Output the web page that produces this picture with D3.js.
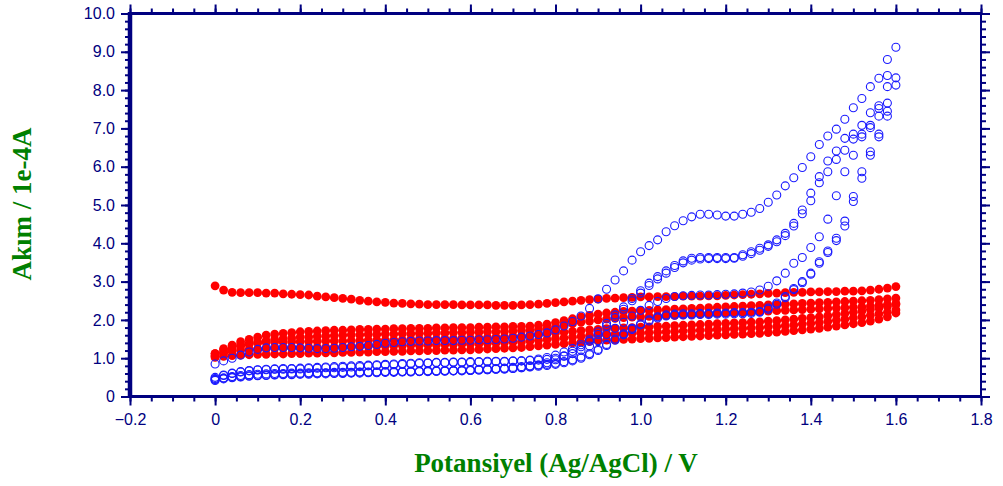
<!DOCTYPE html>
<meta charset="utf-8">
<head>
  <title>Cyclic voltammogram</title>
</head>

<style>
body { margin: 0; background: #fff; }
.tick text {
  font-family: "Liberation Sans", Arial, sans-serif;
  font-size: 16px;
  fill: #000080;
}
.tick line { stroke: #000080; stroke-width: 2; }
.axis-title {
  font-family: "Liberation Serif", "Times New Roman", serif;
  font-weight: bold;
  font-size: 27px;
  fill: #008000;
}
</style>

<body>
  <svg width="1003" height="486"></svg>

  <script src="https://cdnjs.cloudflare.com/ajax/libs/d3/7.8.5/d3.min.js"></script>
  <script>

// potential grid (V), one point every 0.02 V from 0 to 1.6
const potential = d3.range(81).map(i => Math.round(i * 2) / 100);

const xTicks = [-0.2, 0, 0.2, 0.4, 0.6, 0.8, 1.0, 1.2, 1.4, 1.6, 1.8];
const yTicks = [0, 1, 2, 3, 4, 5, 6, 7, 8, 9, 10];

// blue sweeps (open circles), current in 1e-4 A
const blueF1 = [
  0.85, 0.93, 1.00, 1.08, 1.16, 1.23, 1.27, 1.28, 1.28, 1.28,
  1.27, 1.26, 1.25, 1.25, 1.26, 1.28, 1.30, 1.31, 1.33, 1.36,
  1.39, 1.41, 1.43, 1.44, 1.45, 1.45, 1.46, 1.46, 1.46, 1.47,
  1.47, 1.48, 1.48, 1.49, 1.50, 1.52, 1.55, 1.58, 1.62, 1.66,
  1.74, 1.84, 1.96, 2.10, 2.30, 2.55, 2.80, 3.04, 3.28, 3.56,
  3.78, 3.94, 4.09, 4.30, 4.46, 4.59, 4.69, 4.76, 4.76, 4.74,
  4.71, 4.71, 4.76, 4.81, 4.91, 5.07, 5.26, 5.50, 5.71, 5.98,
  6.26, 6.58, 6.80, 6.98, 7.24, 7.54, 7.78, 8.09, 8.31, 8.80,
  9.12];
const blueR1 = [
  0.47, 0.55, 0.61, 0.65, 0.68, 0.70, 0.71, 0.72, 0.73, 0.73,
  0.74, 0.75, 0.76, 0.77, 0.78, 0.79, 0.80, 0.81, 0.82, 0.83,
  0.84, 0.85, 0.86, 0.87, 0.88, 0.88, 0.89, 0.89, 0.90, 0.90,
  0.91, 0.91, 0.92, 0.92, 0.92, 0.93, 0.93, 0.94, 0.95, 0.97,
  1.00, 1.05, 1.12, 1.21, 1.32, 1.46, 1.62, 1.78, 1.94, 2.10,
  2.25, 2.38, 2.48, 2.56, 2.61, 2.63, 2.64, 2.65, 2.65, 2.66,
  2.67, 2.68, 2.70, 2.73, 2.78, 2.88, 3.02, 3.22, 3.48, 3.63,
  3.89, 4.17, 4.63, 5.24, 5.87, 6.30, 6.78, 7.02, 7.32, 8.38,
  null];
const blueF2 = [
  0.50, 0.56, 0.60, 0.64, 0.67, 0.69, 0.70, 0.71, 0.71, 0.72,
  0.72, 0.73, 0.74, 0.75, 0.75, 0.76, 0.77, 0.78, 0.80, 0.81,
  0.82, 0.83, 0.84, 0.85, 0.86, 0.87, 0.88, 0.88, 0.89, 0.89,
  0.89, 0.90, 0.90, 0.91, 0.91, 0.92, 0.93, 0.95, 0.98, 1.02,
  1.08, 1.16, 1.25, 1.35, 1.48, 1.69, 1.91, 2.13, 2.34, 2.56,
  2.76, 2.96, 3.13, 3.28, 3.42, 3.54, 3.61, 3.63, 3.63, 3.63,
  3.63, 3.63, 3.70, 3.78, 3.87, 3.96, 4.09, 4.26, 4.52, 4.87,
  5.31, 5.74, 6.15, 6.41, 6.74, 6.85, 7.08, 7.41, 7.59, 8.09,
  8.32];
const blueR2 = [
  0.45, 0.48, 0.50, 0.52, 0.54, 0.55, 0.56, 0.57, 0.58, 0.59,
  0.59, 0.60, 0.60, 0.61, 0.61, 0.62, 0.62, 0.63, 0.63, 0.64,
  0.64, 0.65, 0.65, 0.66, 0.66, 0.67, 0.67, 0.68, 0.68, 0.69,
  0.70, 0.71, 0.72, 0.73, 0.74, 0.76, 0.78, 0.80, 0.82, 0.84,
  0.87, 0.91, 0.96, 1.03, 1.12, 1.23, 1.36, 1.50, 1.64, 1.78,
  1.90, 2.00, 2.08, 2.13, 2.15, 2.16, 2.16, 2.17, 2.17, 2.18,
  2.18, 2.19, 2.19, 2.20, 2.22, 2.31, 2.44, 2.61, 2.82, 3.00,
  3.22, 3.52, 3.80, 4.13, 4.58, 5.22, 5.87, 6.39, 6.85, 7.45,
  null];
const blueF3 = [
  0.44, 0.48, 0.52, 0.55, 0.57, 0.58, 0.59, 0.60, 0.60, 0.61,
  0.61, 0.62, 0.62, 0.62, 0.63, 0.63, 0.63, 0.64, 0.64, 0.64,
  0.65, 0.65, 0.65, 0.65, 0.66, 0.66, 0.66, 0.67, 0.67, 0.68,
  0.68, 0.69, 0.70, 0.71, 0.72, 0.73, 0.75, 0.78, 0.82, 0.88,
  0.96, 1.06, 1.18, 1.30, 1.44, 1.62, 1.84, 2.06, 2.28, 2.50,
  2.70, 2.90, 3.07, 3.22, 3.37, 3.49, 3.56, 3.59, 3.60, 3.60,
  3.60, 3.61, 3.66, 3.73, 3.82, 3.92, 4.04, 4.20, 4.45, 4.77,
  5.11, 5.58, 5.87, 6.19, 6.43, 6.72, 6.85, 7.08, 7.52, 7.66,
  8.13];
const blueR3 = [
  0.42, 0.46, 0.49, 0.51, 0.53, 0.54, 0.55, 0.56, 0.57, 0.57,
  0.58, 0.58, 0.59, 0.59, 0.60, 0.60, 0.61, 0.61, 0.62, 0.62,
  0.63, 0.63, 0.64, 0.64, 0.65, 0.65, 0.66, 0.66, 0.67, 0.67,
  0.68, 0.69, 0.70, 0.71, 0.72, 0.73, 0.75, 0.77, 0.79, 0.81,
  0.84, 0.88, 0.93, 1.00, 1.09, 1.20, 1.33, 1.47, 1.61, 1.75,
  1.87, 1.97, 2.05, 2.10, 2.12, 2.13, 2.13, 2.14, 2.14, 2.15,
  2.15, 2.16, 2.16, 2.17, 2.20, 2.28, 2.41, 2.58, 2.79, 2.97,
  3.19, 3.48, 3.76, 4.07, 4.45, 5.09, 5.70, 6.30, 6.78, 7.32,
  null];

// red sweeps (filled circles)
const redF1 = [
  2.89, 2.78, 2.72, 2.71, 2.71, 2.71, 2.70, 2.70, 2.68, 2.67,
  2.66, 2.65, 2.62, 2.60, 2.58, 2.56, 2.54, 2.51, 2.49, 2.47,
  2.46, 2.44, 2.43, 2.42, 2.41, 2.40, 2.40, 2.40, 2.40, 2.39,
  2.39, 2.39, 2.39, 2.38, 2.38, 2.38, 2.39, 2.40, 2.41, 2.43,
  2.45, 2.47, 2.49, 2.51, 2.53, 2.54, 2.56, 2.57, 2.58, 2.59,
  2.60, 2.60, 2.61, 2.61, 2.61, 2.62, 2.62, 2.62, 2.63, 2.63,
  2.64, 2.65, 2.66, 2.67, 2.68, 2.69, 2.70, 2.71, 2.72, 2.72,
  2.73, 2.73, 2.74, 2.74, 2.75, 2.75, 2.76, 2.78, 2.80, 2.83,
  2.87];
const redF2 = [
  1.12, 1.25, 1.34, 1.43, 1.49, 1.55, 1.60, 1.63, 1.65, 1.67,
  1.69, 1.70, 1.71, 1.72, 1.73, 1.73, 1.74, 1.75, 1.75, 1.76,
  1.76, 1.77, 1.77, 1.78, 1.78, 1.78, 1.79, 1.79, 1.80, 1.80,
  1.80, 1.81, 1.81, 1.82, 1.82, 1.83, 1.83, 1.84, 1.86, 1.89,
  1.93, 1.98, 2.03, 2.08, 2.12, 2.15, 2.18, 2.20, 2.22, 2.23,
  2.24, 2.25, 2.26, 2.27, 2.28, 2.29, 2.30, 2.31, 2.32, 2.33,
  2.34, 2.35, 2.36, 2.37, 2.38, 2.39, 2.40, 2.41, 2.42, 2.43,
  2.44, 2.45, 2.46, 2.47, 2.48, 2.49, 2.50, 2.51, 2.53, 2.55,
  2.57];
const redF3 = [
  1.05, 1.15, 1.24, 1.31, 1.37, 1.42, 1.46, 1.49, 1.51, 1.53,
  1.55, 1.56, 1.57, 1.58, 1.59, 1.60, 1.61, 1.61, 1.62, 1.62,
  1.63, 1.63, 1.64, 1.64, 1.65, 1.65, 1.66, 1.66, 1.67, 1.67,
  1.68, 1.68, 1.69, 1.69, 1.70, 1.71, 1.72, 1.73, 1.75, 1.78,
  1.82, 1.86, 1.90, 1.94, 1.97, 2.00, 2.02, 2.04, 2.06, 2.07,
  2.08, 2.09, 2.10, 2.11, 2.12, 2.13, 2.14, 2.15, 2.16, 2.17,
  2.18, 2.19, 2.20, 2.21, 2.22, 2.23, 2.24, 2.25, 2.26, 2.27,
  2.28, 2.29, 2.30, 2.31, 2.32, 2.33, 2.34, 2.36, 2.38, 2.40,
  2.43];
const redR1 = [
  1.02, 1.05, 1.07, 1.08, 1.09, 1.10, 1.10, 1.11, 1.11, 1.12,
  1.12, 1.13, 1.13, 1.14, 1.14, 1.15, 1.15, 1.16, 1.16, 1.17,
  1.17, 1.18, 1.18, 1.19, 1.19, 1.20, 1.20, 1.21, 1.21, 1.22,
  1.22, 1.23, 1.24, 1.25, 1.26, 1.27, 1.28, 1.30, 1.32, 1.34,
  1.36, 1.38, 1.40, 1.42, 1.44, 1.45, 1.47, 1.48, 1.49, 1.50,
  1.51, 1.52, 1.53, 1.54, 1.55, 1.56, 1.57, 1.58, 1.59, 1.60,
  1.61, 1.62, 1.63, 1.64, 1.65, 1.67, 1.68, 1.70, 1.72, 1.74,
  1.76, 1.78, 1.81, 1.84, 1.87, 1.90, 1.93, 1.97, 2.02, 2.08,
  2.18];
const redR2 = [
  1.08, 1.14, 1.18, 1.21, 1.23, 1.24, 1.25, 1.26, 1.26, 1.27,
  1.27, 1.28, 1.28, 1.29, 1.29, 1.30, 1.30, 1.31, 1.31, 1.32,
  1.32, 1.33, 1.33, 1.34, 1.34, 1.35, 1.35, 1.36, 1.36, 1.37,
  1.37, 1.38, 1.39, 1.40, 1.41, 1.42, 1.43, 1.45, 1.47, 1.49,
  1.51, 1.53, 1.55, 1.57, 1.59, 1.60, 1.62, 1.63, 1.64, 1.65,
  1.66, 1.67, 1.68, 1.69, 1.70, 1.71, 1.72, 1.73, 1.74, 1.75,
  1.76, 1.77, 1.78, 1.79, 1.80, 1.82, 1.83, 1.85, 1.87, 1.89,
  1.91, 1.93, 1.96, 1.99, 2.02, 2.05, 2.08, 2.12, 2.16, 2.20,
  2.26];
const redR3 = [
  1.12, 1.22, 1.30, 1.35, 1.38, 1.40, 1.41, 1.42, 1.42, 1.43,
  1.43, 1.44, 1.44, 1.45, 1.45, 1.45, 1.46, 1.46, 1.47, 1.47,
  1.47, 1.48, 1.48, 1.49, 1.49, 1.50, 1.50, 1.51, 1.51, 1.52,
  1.52, 1.53, 1.54, 1.55, 1.56, 1.57, 1.58, 1.60, 1.62, 1.64,
  1.66, 1.68, 1.70, 1.72, 1.74, 1.75, 1.77, 1.78, 1.79, 1.80,
  1.81, 1.82, 1.83, 1.84, 1.85, 1.86, 1.87, 1.88, 1.89, 1.90,
  1.91, 1.92, 1.93, 1.94, 1.95, 1.97, 1.98, 2.00, 2.02, 2.04,
  2.06, 2.08, 2.11, 2.14, 2.17, 2.20, 2.23, 2.27, 2.31, 2.35,
  2.40];

const redSweeps = [redR1, redR2, redR3, redF3, redF2, redF1];
const blueSweeps = [blueR3, blueF3, blueR2, blueF2, blueR1, blueF1];

const svg = d3.select('svg');
const x = d3.scaleLinear().domain([-0.2, 1.8]).range([130, 981]);
const y = d3.scaleLinear().domain([0, 10]).range([396.5, 13.5]);

const toPoints = arr => arr
  .map((v, i) => ({ p: potential[i], v: v }))
  .filter(d => d.v != null);

// red filled markers
svg.append('g')
  .selectAll('g')
  .data(redSweeps)
  .enter().append('g')
  .selectAll('circle')
  .data(d => toPoints(d))
  .enter().append('circle')
  .attr('cx', d => x(d.p))
  .attr('cy', d => y(d.v))
  .attr('r', 4.4)
  .attr('fill', '#ff0000');

// blue open markers
svg.append('g')
  .selectAll('g')
  .data(blueSweeps)
  .enter().append('g')
  .selectAll('circle')
  .data(d => toPoints(d))
  .enter().append('circle')
  .attr('cx', d => x(d.p))
  .attr('cy', d => y(d.v))
  .attr('r', 4)
  .attr('fill', 'none')
  .attr('stroke', '#1a1aff')
  .attr('stroke-width', 1.1);

// axes
const xMinor = d3.range(-0.2, 1.801, 0.05).map(d => Math.round(d * 100) / 100);
const yMinor = d3.range(0, 10.01, 0.2).map(d => Math.round(d * 10) / 10);
const fmtX = d => d === 0 ? '0' : d3.format('.1f')(d);
const fmtY = d => d === 0 ? '0' : d3.format('.1f')(d);

function addAxis(axis, tx, ty) {
  const g = svg.append('g').attr('transform', `translate(${tx},${ty})`).call(axis);
  g.select('.domain').remove();
  return g;
}

addAxis(d3.axisBottom(x).tickValues(xMinor).tickSize(5).tickFormat(''), 0, 396.5);
addAxis(d3.axisBottom(x).tickValues(xTicks).tickSize(9).tickPadding(8).tickFormat(fmtX), 0, 396.5);
addAxis(d3.axisTop(x).tickValues(xMinor).tickSize(5).tickFormat(''), 0, 13.5);
addAxis(d3.axisTop(x).tickValues(xTicks).tickSize(9).tickFormat(''), 0, 13.5);
addAxis(d3.axisLeft(y).tickValues(yMinor).tickSize(5).tickFormat(''), 130, 0);
addAxis(d3.axisLeft(y).tickValues(yTicks).tickSize(9).tickPadding(6).tickFormat(fmtY), 130, 0);
addAxis(d3.axisRight(y).tickValues(yMinor).tickSize(5).tickFormat(''), 981, 0);
addAxis(d3.axisRight(y).tickValues(yTicks).tickSize(9).tickFormat(''), 981, 0);

// frame
const frame = svg.append('g').attr('stroke', '#000080').attr('fill', 'none');
frame.append('line').attr('x1', 130).attr('x2', 130).attr('y1', 12).attr('y2', 398).attr('stroke-width', 4.5);
frame.append('line').attr('x1', 128).attr('x2', 982).attr('y1', 396.5).attr('y2', 396.5).attr('stroke-width', 3);
frame.append('line').attr('x1', 128).attr('x2', 982).attr('y1', 13.5).attr('y2', 13.5).attr('stroke-width', 3);
frame.append('line').attr('x1', 981).attr('x2', 981).attr('y1', 12).attr('y2', 398).attr('stroke-width', 2);

// titles
svg.append('text')
  .attr('class', 'axis-title')
  .attr('text-anchor', 'middle')
  .attr('x', 556).attr('y', 472)
  .text('Potansiyel (Ag/AgCl) / V');

svg.append('text')
  .attr('class', 'axis-title')
  .attr('text-anchor', 'middle')
  .attr('transform', 'translate(31,204) rotate(-90)')
  .text('Akım / 1e-4A');

  </script>
</body>
